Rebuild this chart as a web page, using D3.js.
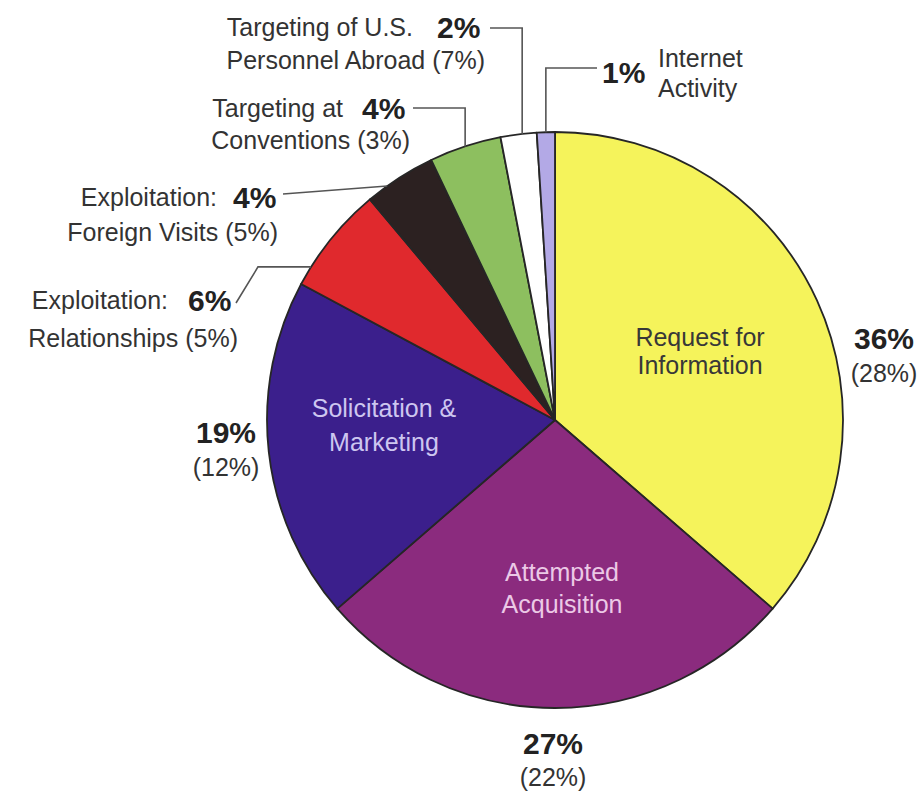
<!DOCTYPE html>
<html>
<head>
<meta charset="utf-8">
<script src="https://cdn.jsdelivr.net/npm/d3@7"></script>
<style>
  body { margin: 0; background: #fff; }
  svg { display: block; font-family: "Liberation Sans", Arial, sans-serif; }
</style>
</head>
<body>
<svg id="chart"></svg>
<script>
const width = 922;
const height = 791;

// data (clockwise from 12 o'clock)
const categories = ['Request for Information', 'Attempted Acquisition', 'Solicitation & Marketing',
  'Exploitation: Relationships', 'Exploitation: Foreign Visits', 'Targeting at Conventions',
  'Targeting of U.S. Personnel Abroad', 'Internet Activity'];
const shares = [36, 27, 19, 6, 4, 4, 2, 1];
const priorShares = [28, 22, 12, 5, 5, 3, 7, null];

const colors = ['#f5f35b', '#8b2b7e', '#3b1f8c', '#e0292d', '#2c2121', '#8dbf5f', '#ffffff', '#b3a9e6'];

const cx = 555, cy = 420, radius = 288;

const svg = d3.select('#chart')
  .attr('width', width)
  .attr('height', height);

svg.append('rect').attr('width', width).attr('height', height).attr('fill', '#fff');

const pie = d3.pie().sort(null).value(d => d.value);
const arcs = pie(categories.map((c, i) => ({ name: c, value: shares[i], prior: priorShares[i] })));
const arc = d3.arc().innerRadius(0).outerRadius(radius);

const g = svg.append('g').attr('transform', `translate(${cx},${cy})`);

g.selectAll('path')
  .data(arcs)
  .enter()
  .append('path')
  .attr('d', arc)
  .attr('fill', (d, i) => colors[i])
  .attr('stroke', '#262626')
  .attr('stroke-width', 1.8)
  .attr('stroke-linejoin', 'round');

// point on the rim at fraction t through slice i
function rim(i, t) {
  const a = arcs[i].startAngle + (arcs[i].endAngle - arcs[i].startAngle) * t;
  return [cx + radius * Math.sin(a), cy - radius * Math.cos(a)];
}

const pct = v => v + '%';
const txt = '#333';

function text(x, y, s, opts) {
  opts = opts || {};
  return svg.append('text')
    .attr('x', x).attr('y', y)
    .attr('dy', '0.35em')
    .attr('text-anchor', opts.anchor || 'start')
    .attr('font-size', opts.size || 25)
    .attr('font-weight', opts.bold ? 'bold' : 'normal')
    .attr('fill', opts.fill || txt)
    .text(s);
}

// labels inside the big slices
const inside = [
  { i: 0, x: 700, y: [337, 365], lines: ['Request for', 'Information'], fill: '#383838' },
  { i: 1, x: 562, y: [572, 604], lines: ['Attempted', 'Acquisition'], fill: '#ebc9e6' },
  { i: 2, x: 384, y: [408, 442], lines: ['Solicitation &', 'Marketing'], fill: '#cdc6f0' }
];
inside.forEach(l => l.lines.forEach((s, k) => text(l.x, l.y[k], s, { anchor: 'middle', fill: l.fill })));

// percentages of the big slices, outside the rim
const outside = [
  { i: 0, x: 884, y: [338, 373] },
  { i: 1, x: 553, y: [743, 777] },
  { i: 2, x: 226, y: [432, 467] }
];
outside.forEach(l => {
  text(l.x, l.y[0], pct(shares[l.i]), { anchor: 'middle', bold: true, size: 30, fill: '#222' });
  text(l.x, l.y[1], '(' + pct(priorShares[l.i]) + ')', { anchor: 'middle' });
});

// small slices with leader lines
const side = [
  { i: 3, l1: 'Exploitation:', l2: 'Relationships', x1: 168, xp: 188, x2: 238, y: [300, 338] },
  { i: 4, l1: 'Exploitation:', l2: 'Foreign Visits', x1: 217, xp: 233, x2: 278, y: [197, 232] },
  { i: 5, l1: 'Targeting at', l2: 'Conventions', x1: 343, xp: 362, x2: 410, y: [108, 140] },
  { i: 6, l1: 'Targeting of U.S.', l2: 'Personnel Abroad', x1: 413, xp: 437, x2: 485, y: [27, 60] }
];
side.forEach(l => {
  text(l.x1, l.y[0], l.l1, { anchor: 'end' });
  text(l.xp, l.y[0], pct(shares[l.i]), { bold: true, size: 30, fill: '#222' });
  text(l.x2, l.y[1], l.l2 + ' (' + pct(priorShares[l.i]) + ')', { anchor: 'end' });
});

// Internet Activity
text(602, 72, pct(shares[7]), { bold: true, size: 30, fill: '#222' });
text(658, 58, 'Internet');
text(658, 88, 'Activity');

// leader lines
const line = d3.line();
const leaders = [];
{
  const e = rim(3, 0.18);
  leaders.push([[236, 303], [258, e[1]], e]);
}
leaders.push([[283, 194], rim(4, 0.3)]);
{
  const e = rim(5, 0.5);
  leaders.push([[413, 108], [e[0], 108], e]);
}
{
  const e = rim(6, 0.6);
  leaders.push([[490, 28], [e[0], 28], e]);
}
{
  const e = rim(7, 0.5);
  leaders.push([[597, 68], [e[0], 68], e]);
}
svg.selectAll('path.leader')
  .data(leaders)
  .enter()
  .append('path')
  .attr('class', 'leader')
  .attr('d', line)
  .attr('fill', 'none')
  .attr('stroke', '#555')
  .attr('stroke-width', 1.6);
</script>
</body>
</html>
